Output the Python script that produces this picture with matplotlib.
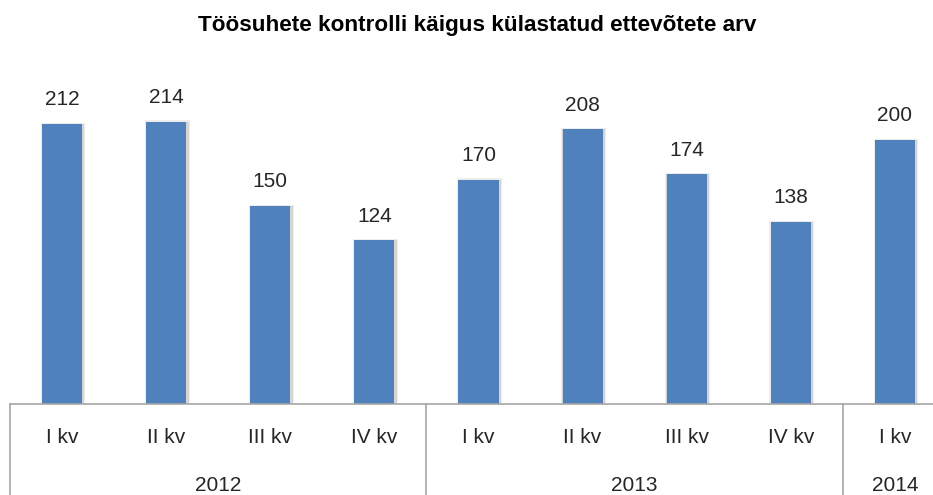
import matplotlib.pyplot as plt
import matplotlib.transforms as mtransforms

# data
quarters = ['I kv', 'II kv', 'III kv', 'IV kv', 'I kv', 'II kv', 'III kv', 'IV kv', 'I kv']
years = ['2012', '2013', '2014']
year_sizes = [4, 4, 1]
values = [212, 214, 150, 124, 170, 208, 174, 138, 200]

plt.rcParams['font.family'] = ['Liberation Sans', 'DejaVu Sans']

fig = plt.figure(figsize=(9.33, 4.95), dpi=100)
# plot area runs a bit past the right edge, like in the original
ax = fig.add_axes([10/933, 91/495, 937/933, 330/495])

x = list(range(len(values)))
# soft shadow behind bars
ax.bar([i + 0.01 for i in x], [v + 1 for v in values], width=0.43, color='#ececec', zorder=1)
ax.bar([i + 0.01 for i in x], values, width=0.41, color='#d4d4d4', zorder=1)
ax.bar(x, values, width=0.385, color='#4f81bd', zorder=2)

for i, v in zip(x, values):
    ax.annotate(str(v), (i, v), xytext=(0, 13.5), textcoords='offset points',
                ha='center', va='baseline', fontsize=15, color='#262626')

ax.set_xlim(-0.5, len(values) - 0.5)
ax.set_ylim(0, 250)
ax.set_xticks([])
ax.set_yticks([])
for s in ['top', 'right', 'left']:
    ax.spines[s].set_visible(False)
ax.spines['bottom'].set_color('#a6a6a6')
ax.spines['bottom'].set_linewidth(1.2)

trans = mtransforms.blended_transform_factory(ax.transData, ax.transAxes)

# quarter labels
for i, q in zip(x, quarters):
    ax.text(i, -0.103, q, transform=trans, ha='center', va='center',
            fontsize=15, color='#262626')

# year labels and separators
start = -0.5
ax.plot([start, start], [0, -0.3], transform=trans, color='#a6a6a6', lw=1.2, clip_on=False)
for yr, n in zip(years, year_sizes):
    mid = start + n / 2
    ax.text(mid, -0.248, yr, transform=trans, ha='center', va='center',
            fontsize=15, color='#262626')
    start += n
    ax.plot([start, start], [0, -0.3], transform=trans, color='#a6a6a6', lw=1.2, clip_on=False)

fig.text(477/933, 1 - 25/495, 'Töösuhete kontrolli käigus külastatud ettevõtete arv',
         ha='center', va='center', fontsize=16.2, fontweight='bold', color='black')

fig.savefig('out.png', dpi=100)
